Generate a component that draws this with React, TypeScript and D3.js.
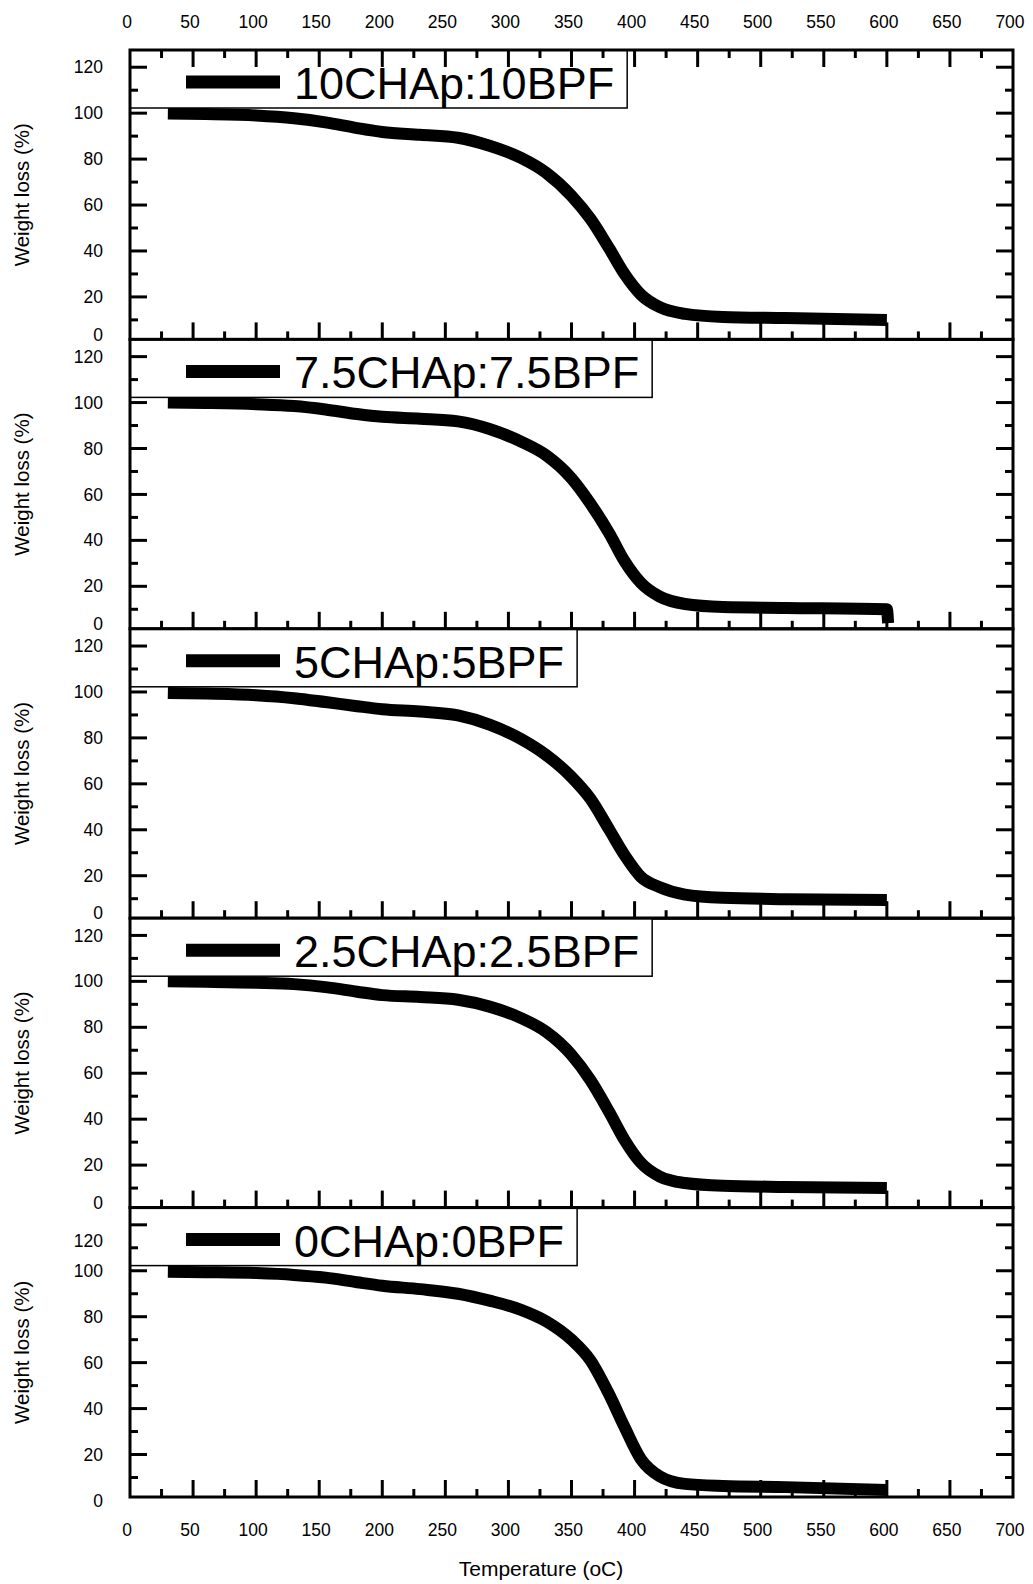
import React, { useEffect, useRef } from 'react';
import * as d3 from 'd3';

// temperature grid (°C) shared by the five TGA curves
const temps = [30, 60, 100, 130, 155, 180, 200, 230, 260, 285, 310, 330, 350, 365, 380, 392, 405, 420, 440, 470, 520, 600];

const wt10 = [99.8, 99.6, 99, 97.8, 96, 93.5, 91.8, 90.6, 89.3, 85.8, 80.5, 74, 64, 54, 41, 30, 21, 15.5, 12.6, 11.3, 10.8, 10];
const wt75 = [100, 99.8, 99.3, 98.5, 97, 95, 93.8, 93, 91.8, 88.5, 83, 77, 67, 56, 43, 31, 21.5, 15.5, 12.3, 11, 10.6, 10];
const wt5 = [99.6, 99.3, 98.6, 97.3, 95.6, 93.8, 92.5, 91.5, 89.8, 85.8, 79.5, 72.5, 63, 53.5, 40, 29, 19.5, 15, 11.8, 10.4, 9.8, 9.4];
const wt25 = [100, 99.8, 99.4, 98.8, 97.5, 95.5, 94, 93.2, 92, 89, 84, 78, 68, 57, 43, 31, 21, 15, 12.2, 11, 10.5, 10];
const wt0 = [99.6, 99.4, 99, 98.2, 97, 95, 93.5, 92, 90, 87, 83, 78, 70, 61, 46, 32, 18, 10.5, 7.2, 6.3, 5.8, 4.5];

// the 7.5 sample ends with a short drop right after 600 °C
const tail75Temp = [601];
const tail75Wt = [4];

const sampleNames = ['10CHAp:10BPF', '7.5CHAp:7.5BPF', '5CHAp:5BPF', '2.5CHAp:2.5BPF', '0CHAp:0BPF'];

const xTickLabels = [0, 50, 100, 150, 200, 250, 300, 350, 400, 450, 500, 550, 600, 650, 700];
const yTickLabels = [0, 20, 40, 60, 80, 100, 120];

const series = [
  { name: sampleNames[0], t: temps, w: wt10 },
  { name: sampleNames[1], t: temps.concat(tail75Temp), w: wt75.concat(tail75Wt) },
  { name: sampleNames[2], t: temps, w: wt5 },
  { name: sampleNames[3], t: temps, w: wt25 },
  { name: sampleNames[4], t: temps, w: wt0 },
];

const App = () => {
  const svgRef = useRef<SVGSVGElement>(null);

  useEffect(() => {
    document.body.style.margin = '0';
    const svg = d3.select(svgRef.current);
    svg.selectAll('*').remove();

    const font = '"Liberation Sans", Arial, sans-serif';
    const left = 130;
    const right = 1013;
    const top = 50;
    const bottom = 1497;
    const panelH = (bottom - top) / series.length;

    const x = d3.scaleLinear().domain([0, 700]).range([left, right]);

    const minorX = d3.range(25, 700, 25);
    const minorY = d3.range(10, 130, 10);

    series.forEach((s, i) => {
      const pTop = top + i * panelH;
      const pBot = pTop + panelH;
      const isLast = i === series.length - 1;
      const y = d3.scaleLinear().domain([1.5, 127.5]).range([pBot, pTop]);
      const g = svg.append('g');

      const line = d3
        .line<[number, number]>()
        .x((d) => x(d[0]))
        .y((d) => y(d[1]))
        .curve(d3.curveMonotoneX);

      g.append('path')
        .datum(d3.zip(s.t, s.w) as [number, number][])
        .attr('d', line)
        .attr('fill', 'none')
        .attr('stroke', '#000')
        .attr('stroke-width', 12)
        .attr('stroke-linejoin', 'round');

      // legend box
      const box = g.append('rect')
        .attr('x', left)
        .attr('y', pTop)
        .attr('height', 58)
        .attr('fill', '#fff')
        .attr('stroke', '#000')
        .attr('stroke-width', 1.5);

      g.append('line')
        .attr('x1', left + 56)
        .attr('x2', left + 150)
        .attr('y1', pTop + 32)
        .attr('y2', pTop + 32)
        .attr('stroke', '#000')
        .attr('stroke-width', 13);

      const label = g.append('text')
        .attr('x', left + 164)
        .attr('y', pTop + 49)
        .attr('font-family', font)
        .attr('font-size', 45)
        .text(s.name);
      const tw = (label.node() as SVGTextElement).getComputedTextLength();
      box.attr('width', 164 + tw + 13);

      // frame
      g.append('rect')
        .attr('x', left)
        .attr('y', pTop)
        .attr('width', right - left)
        .attr('height', panelH)
        .attr('fill', 'none')
        .attr('stroke', '#000')
        .attr('stroke-width', 3);

      // x ticks, inward from the bottom of each panel (and top of the first)
      minorX.forEach((v) => {
        const len = v % 50 === 0 ? 17 : 8;
        g.append('line')
          .attr('x1', x(v)).attr('x2', x(v))
          .attr('y1', pBot).attr('y2', pBot - len)
          .attr('stroke', '#000').attr('stroke-width', 3);
        if (i === 0) {
          g.append('line')
            .attr('x1', x(v)).attr('x2', x(v))
            .attr('y1', pTop).attr('y2', pTop + len)
            .attr('stroke', '#000').attr('stroke-width', 3);
        }
      });

      // y ticks on both sides
      minorY.forEach((v) => {
        const len = v % 20 === 0 ? 17 : 8;
        g.append('line')
          .attr('x1', left).attr('x2', left + len)
          .attr('y1', y(v)).attr('y2', y(v))
          .attr('stroke', '#000').attr('stroke-width', 3);
        g.append('line')
          .attr('x1', right).attr('x2', right - len)
          .attr('y1', y(v)).attr('y2', y(v))
          .attr('stroke', '#000').attr('stroke-width', 3);
      });

      // y tick labels
      yTickLabels.forEach((v) => {
        let ly = y(v);
        if (v === 0 && !isLast) ly = pBot - 5;
        if (v === 120 && isLast) ly = pTop + 33; // pushed down in the bottom panel
        g.append('text')
          .attr('x', 103)
          .attr('y', ly)
          .attr('dy', '0.35em')
          .attr('text-anchor', 'end')
          .attr('font-family', font)
          .attr('font-size', 17.5)
          .text(v);
      });

      g.append('text')
        .attr('transform', `translate(22, ${(pTop + pBot) / 2}) rotate(-90)`)
        .attr('text-anchor', 'middle')
        .attr('dy', '0.35em')
        .attr('font-family', font)
        .attr('font-size', 20.5)
        .text('Weight loss (%)');
    });

    // temperature labels on top and bottom
    [22, 1530].forEach((ly) => {
      svg.append('g')
        .selectAll('text')
        .data(xTickLabels)
        .enter()
        .append('text')
        .attr('x', (d) => x(d) - 3)
        .attr('y', ly)
        .attr('dy', '0.35em')
        .attr('text-anchor', 'middle')
        .attr('font-family', font)
        .attr('font-size', 17.5)
        .text((d) => d);
    });

    svg.append('text')
      .attr('x', 541)
      .attr('y', 1569)
      .attr('dy', '0.35em')
      .attr('text-anchor', 'middle')
      .attr('font-family', font)
      .attr('font-size', 21)
      .text('Temperature (oC)');
  }, []);

  return <svg ref={svgRef} width={1033} height={1584} style={{ display: 'block' }} />;
};

export default App;
